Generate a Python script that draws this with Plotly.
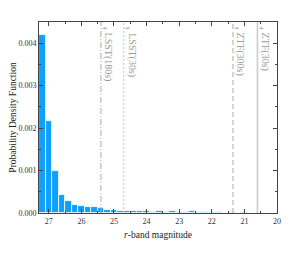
import plotly.graph_objects as go

bin_centers = [27.2, 27.0, 26.8, 26.6, 26.4, 26.2, 26.0, 25.8, 25.6, 25.4,
               25.2, 25.0, 24.8, 24.6, 24.4, 24.2, 24.0, 23.8, 23.6, 23.4,
               23.2, 23.0, 22.8, 22.6, 22.4, 22.2, 22.0, 21.8, 21.6, 21.4,
               21.2, 21.0, 20.8, 20.6, 20.4, 20.2]
pdf_values = [0.0042, 0.00217, 0.00099, 0.00042, 0.00028, 0.00019, 0.00016, 0.00015, 0.00013, 0.00012,
              0.00008, 0.00006, 0.00005, 0.00005, 0.00005, 0.00004, 0.00004, 0.00003, 0.00004, 0.00003,
              0.00004, 0.00003, 0.00002, 0.00004, 0.00003, 0.00002, 0.00002, 0.00002, 0.00001, 0.00002,
              0.00001, 0.00002, 0.00001, 0.00001, 0.00001, 0.00001]

limit_names = ["LSST(180s)", "LSST(30s)", "ZTF(300s)", "ZTF(30s)"]
limit_mags = [25.4, 24.7, 21.35, 20.6]
limit_dash = ["6px,2px,1px,2px", "2px,2px", "5px,3px", "solid"]
limit_colors = ["#aaaaaa", "#cccccc", "#aaaaaa", "#cccccc"]
limit_widths = [1, 1.2, 1, 1.6]

y_ticks = [0.0, 0.001, 0.002, 0.003, 0.004]
x_ticks = [27, 26, 25, 24, 23, 22, 21, 20]

fig = go.Figure()
fig.add_trace(go.Bar(x=bin_centers, y=pdf_values, width=0.2,
                     marker=dict(color="#0ea0fb", line=dict(color="white", width=0.8))))

for name, m, d, c, w in zip(limit_names, limit_mags, limit_dash, limit_colors, limit_widths):
    fig.add_shape(type="line", x0=m, x1=m, y0=0, y1=1, yref="paper",
                  line=dict(color=c, dash=d, width=w))
    fig.add_annotation(x=m, y=1, yref="paper", text=name, textangle=90,
                       showarrow=False, xanchor="left", yanchor="top", xshift=0, yshift=-9,
                       font=dict(family="Liberation Serif", size=10, color="#999999"))
    fig.add_annotation(x=m, y=0.967, yref="paper", ax=-6, ay=0, axref="pixel", ayref="pixel",
                       text="", showarrow=True, arrowhead=2, arrowsize=0.6, arrowwidth=0.8,
                       arrowcolor="#aaaaaa", standoff=0, startstandoff=0, xshift=6)

axis_common = dict(showline=True, linecolor="#444444", linewidth=1, mirror="allticks",
                   ticks="inside", ticklen=4, tickcolor="#444444", showgrid=False, zeroline=False,
                   automargin=False,
                   tickfont=dict(family="Liberation Serif", size=8, color="#333333"))

fig.update_xaxes(range=[27.3, 20], tickvals=x_ticks, ticktext=[str(t) for t in x_ticks],
                 minor=dict(dtick=0.5, ticks="inside", ticklen=2, tickcolor="#444444"),
                 title=dict(text="<i>r</i>-band magnitude", standoff=6,
                            font=dict(family="Liberation Serif", size=9.5, color="#222222")),
                 **axis_common)
fig.update_yaxes(range=[0, 0.0045], tickvals=y_ticks, ticktext=["%.3f" % t for t in y_ticks],
                 minor=dict(dtick=0.0005, ticks="inside", ticklen=2, tickcolor="#444444"),
                 title=dict(text="Probability Density Function", standoff=4,
                            font=dict(family="Liberation Serif", size=9.5, color="#222222")),
                 **axis_common)

fig.update_layout(width=285, height=245, margin=dict(l=31, r=16, t=14, b=40),
                  plot_bgcolor="white", paper_bgcolor="white", showlegend=False, bargap=0)
fig.write_html("out.html")
